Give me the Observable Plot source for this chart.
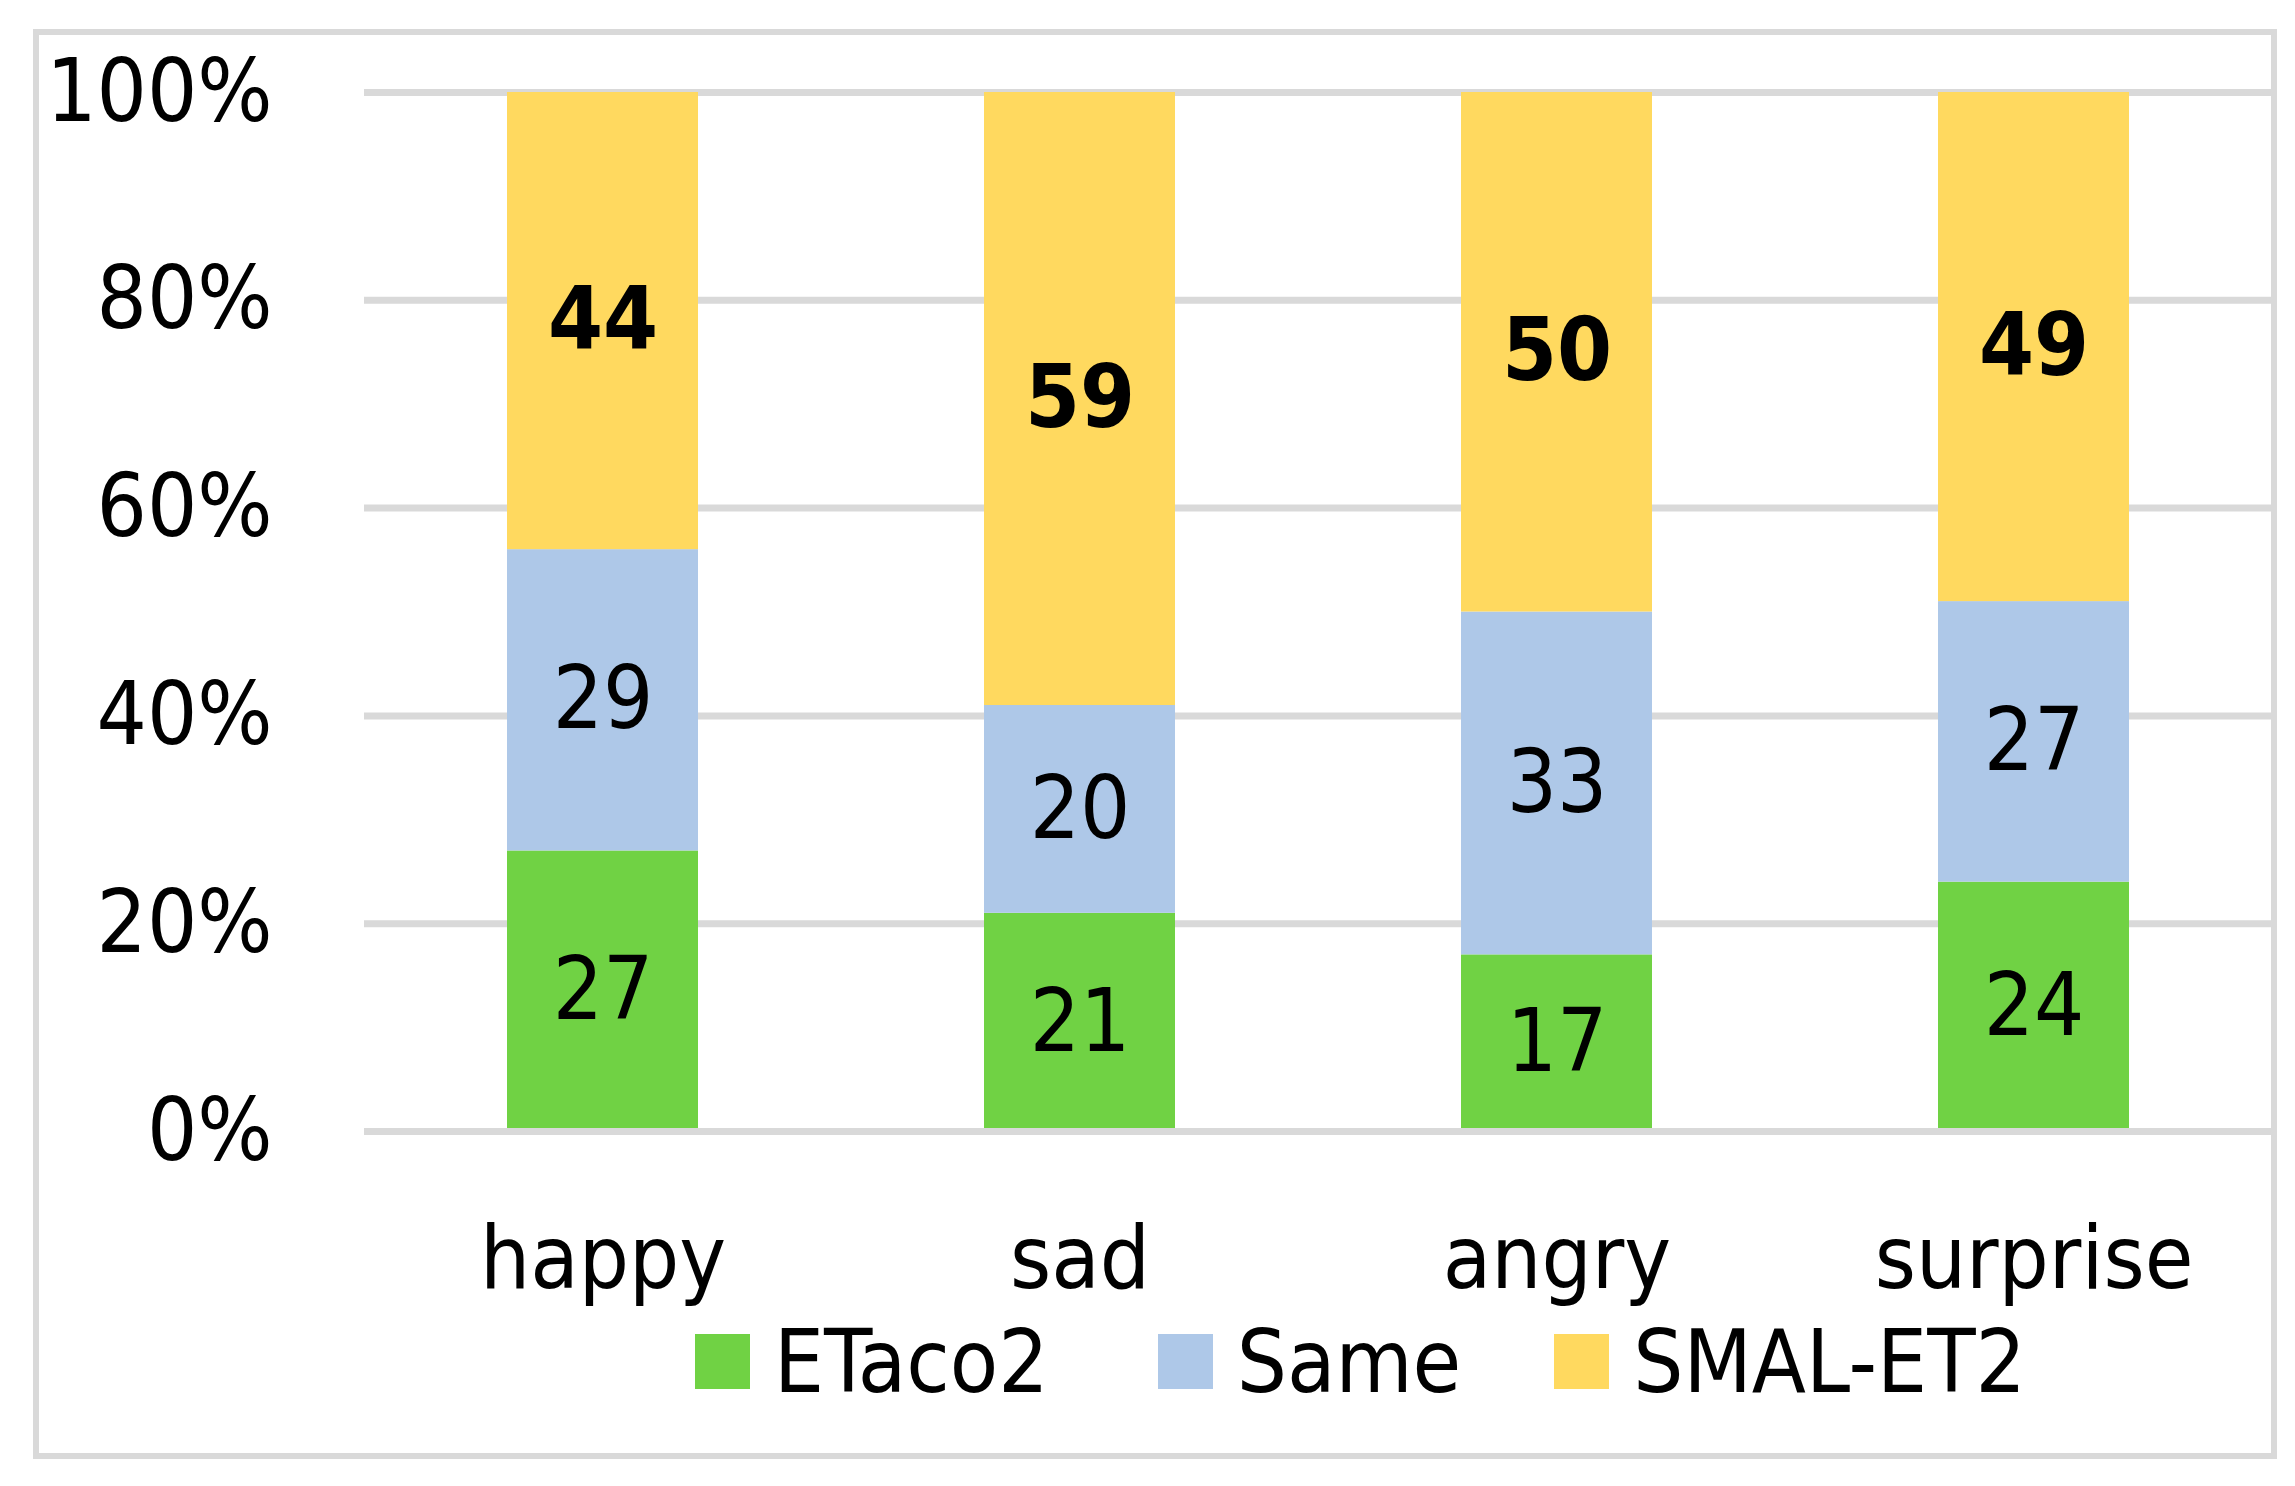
<!DOCTYPE html>
<html><head><meta charset="utf-8">
<script src="https://cdn.jsdelivr.net/npm/d3@7"></script>
<script src="https://cdn.jsdelivr.net/npm/@observablehq/plot@0.6"></script>
<style>
html,body{margin:0;padding:0;background:#fff;}
#wrap{position:relative;width:2295px;height:1486px;overflow:hidden;background:#fff;}
#frame{position:absolute;left:33px;top:29px;width:2244px;height:1430px;box-sizing:border-box;border:6px solid #d9d9d9;pointer-events:none;}
#chart{position:absolute;left:0;top:0;}
#legend{position:absolute;left:695px;top:1310px;width:1580px;white-space:nowrap;}
#legend .lg-swatch{margin-right:93px !important;}
#legend span.lg-swatch:nth-of-type(1){margin-right:109px !important;}
#legend .lg-swatch > svg{margin-right:24px !important;}
</style></head><body>
<div id="wrap"><div id="chart"></div><div id="legend"></div><div id="frame"></div></div>
<script>
const categories = ["happy", "sad", "angry", "surprise"];
const series = ["ETaco2", "Same", "SMAL-ET2"];
const etaco2 = [27, 21, 17, 24];
const same = [29, 20, 33, 27];
const smalEt2 = [44, 59, 50, 49];
const colors = ["#70D244", "#AEC8E8", "#FFD95F"];
const yTicks = [0, 20, 40, 60, 80, 100];

const seriesValues = [etaco2, same, smalEt2];
const rows = [];
categories.forEach((cat, i) => {
  series.forEach((s, j) => rows.push({cat, series: s, value: seriesValues[j][i]}));
});

const font = "'DejaVu Sans Condensed','DejaVu Sans',sans-serif";

const chart = Plot.plot({
  width: 2295,
  height: 1330,
  marginTop: 92,
  marginBottom: 199,
  marginLeft: 364,
  marginRight: 23,
  style: {fontFamily: font, fontStretch: "condensed", fontSize: "88px", color: "#000", background: "transparent", overflow: "visible"},
  x: {domain: categories, paddingInner: 0.6, paddingOuter: 0.3, label: null, axis: null},
  y: {domain: [0, 100], label: null, axis: null},
  color: {domain: series, range: colors},
  marks: [
    Plot.ruleY(yTicks.filter(t => t > 0), {stroke: "#d9d9d9", strokeWidth: 7}),
    Plot.barY(rows, {x: "cat", y: "value", fill: "series", z: "series"}),
    Plot.ruleY([0], {stroke: "#d9d9d9", strokeWidth: 7}),
    Plot.text(rows, Plot.stackY({x: "cat", y: "value", z: "series",
      text: d => d.series !== "SMAL-ET2" ? String(d.value) : null,
      fill: "#000", fontSize: 88})),
    Plot.text(rows, Plot.stackY({x: "cat", y: "value", z: "series",
      text: d => d.series === "SMAL-ET2" ? String(d.value) : null,
      fill: "#000", fontSize: 88, fontWeight: "bold"})),
    Plot.axisY({ticks: yTicks, tickFormat: d => `${d}%`, tickSize: 0, tickPadding: 92, fontSize: 88, label: null}),
    Plot.axisX({tickSize: 0, tickPadding: 94, fontSize: 88, label: null})
  ]
});
document.getElementById("chart").appendChild(chart);

const legend = Plot.legend({
  color: {domain: series, range: colors},
  swatchSize: 55,
  className: "lg",
  style: {fontFamily: font, fontStretch: "condensed", fontSize: "88px", color: "#000", margin: "0"}
});
document.getElementById("legend").appendChild(legend);
</script>
</body></html>
